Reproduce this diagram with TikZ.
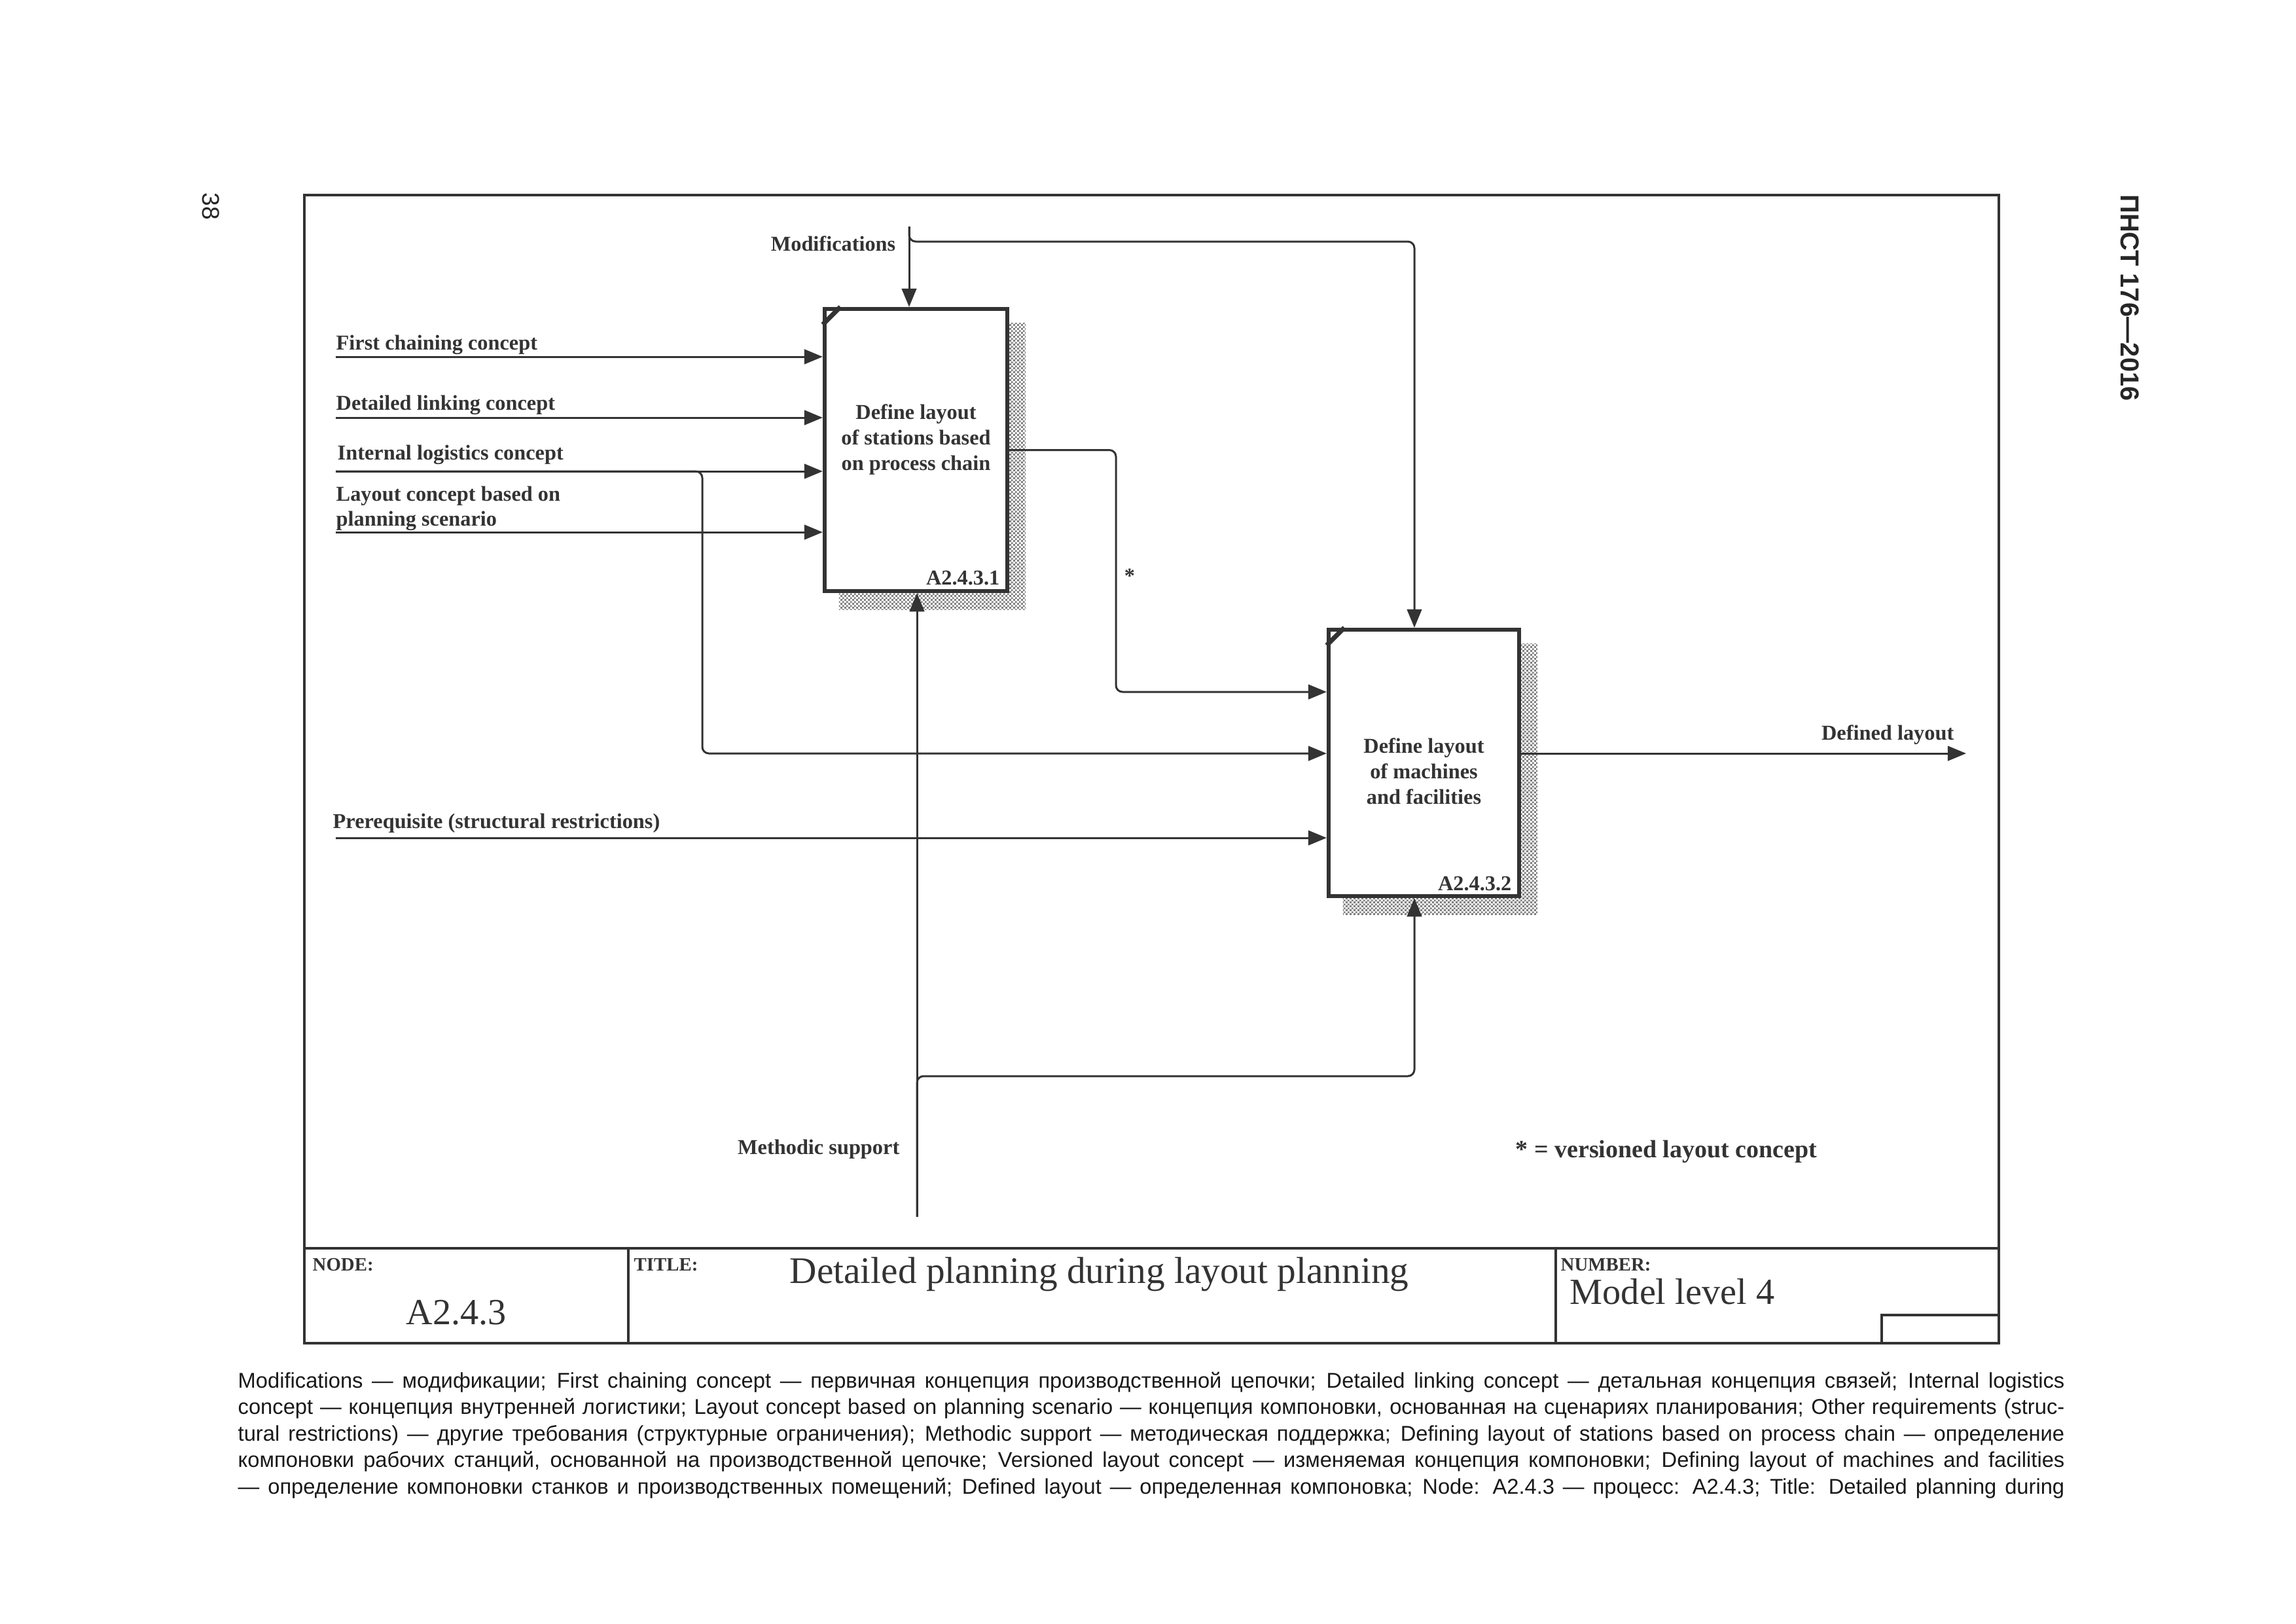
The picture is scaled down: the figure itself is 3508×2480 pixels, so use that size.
\documentclass[tikz,border=0pt]{standalone}
\usepackage{fontspec}
\setmainfont{Liberation Serif}
\newfontfamily\notefont{Liberation Sans}
\usetikzlibrary{arrows.meta,patterns.meta,backgrounds,positioning}

\definecolor{ink}{HTML}{333333}

\tikzdeclarepattern{
  name=idefdots,
  type=uncolored,
  bounding box={(0pt,0pt) and (1.8pt,1.8pt)},
  tile size={(1.8pt,1.8pt)},
  code={
    \pgfpathrectangle{\pgfpointorigin}{\pgfpoint{0.9pt}{0.9pt}}
    \pgfpathrectangle{\pgfpoint{0.9pt}{0.9pt}}{\pgfpoint{0.9pt}{0.9pt}}
    \pgfusepath{fill}
  }
}

\tikzset{
  flow/.style={draw=ink, line width=0.85pt, -{Triangle[length=8pt,width=6.4pt]}},
  actbox/.style={draw=ink, line width=1.7pt, fill=white, inner sep=0pt},
  corner/.style={draw=ink, line width=2pt, line cap=butt},
  lbl/.style={text=ink, inner sep=0pt, font=\fontsize{9.2}{10.8}\selectfont\bfseries},
  boxtext/.style={lbl, align=center, font=\fontsize{9.2}{11.1}\selectfont\bfseries},
  frame/.style={draw=ink, line width=0.9pt},
  cellhead/.style={text=ink, inner sep=0pt, anchor=base west, font=\fontsize{8.2}{9}\selectfont\bfseries},
  cellbig/.style={text=ink, inner sep=0pt, font=\fontsize{16}{18}\selectfont},
  noterow/.style={text=black!90, inner sep=0pt, anchor=base west, font=\notefont\fontsize{9.3}{11.4}\selectfont},
}

\begin{document}
\begin{tikzpicture}[x=0.01cm, y=-0.01cm]
\useasboundingbox (0,0) rectangle (3508,2480);

% frame and title block
\draw[frame] (465,298) rectangle (3054,2052);
\draw[frame, line width=1.2pt] (465,1907) -- (3054,1907);
\draw[frame] (960,1907) -- (960,2052);
\draw[frame] (2377,1907) -- (2377,2052);
\draw[frame] (2875,2009) rectangle (3054,2052);

% activity boxes
\node[actbox, minimum width=2.79cm, minimum height=4.31cm] (b1) at (1399.5,687.5) {};
\node[actbox, minimum width=2.91cm, minimum height=4.07cm] (b2) at (2175.5,1165.5) {};
\draw[corner] ([yshift=-0.27cm]b1.north west) -- ([xshift=0.27cm]b1.north west);
\draw[corner] ([yshift=-0.27cm]b2.north west) -- ([xshift=0.27cm]b2.north west);
\begin{scope}[on background layer]
  \fill[pattern=idefdots, pattern color=black!50] ([shift={(0.25cm,-0.25cm)}]b1.south west) rectangle ([shift={(0.25cm,-0.25cm)}]b1.north east);
  \fill[pattern=idefdots, pattern color=black!50] ([shift={(0.25cm,-0.25cm)}]b2.south west) rectangle ([shift={(0.25cm,-0.25cm)}]b2.north east);
\end{scope}

\node[boxtext, anchor=north] (t1) at ([yshift=-1.48cm]b1.north) {Define layout\\of stations based\\on process chain};
\node[boxtext, anchor=north] (t2) at ([yshift=-1.68cm]b2.north) {Define layout\\of machines\\and facilities};
\node[lbl, anchor=base east] (id1) at ([shift={(-0.14cm,0.13cm)}]b1.south east) {A2.4.3.1};
\node[lbl, anchor=base east] (id2) at ([shift={(-0.14cm,0.12cm)}]b2.south east) {A2.4.3.2};

% inputs
\coordinate (in1) at (513,545);
\coordinate (in2) at (513,638);
\coordinate (in3) at (513,720);
\coordinate (in4) at (513,813);
\coordinate (in5) at (513,1280);
\foreach \c in {in1,in2,in3,in4}
  \draw[flow] (\c) -- (\c -| b1.west);
\draw[flow] (in5) -- (in5 -| b2.west);

\node[lbl, anchor=base west] (l1) at (513,534) {First chaining concept};
\node[lbl, anchor=base west] (l2) at (513,626) {Detailed linking concept};
\node[lbl, anchor=base west] (l3) at (515,702) {Internal logistics concept};
\node[lbl, anchor=north west, align=left] (l4) at (513,742) {Layout concept based on\\planning scenario};
\node[lbl, anchor=base west] (l5) at (508,1265) {Prerequisite (structural restrictions)};

\coordinate (ilturn) at (1073,1151);
\draw[flow, rounded corners=0.1cm] (in3) -| (ilturn) -- (ilturn -| b2.west);

% controls
\coordinate (mod) at (1389,346);
\coordinate (modturn) at (2161,369);
\draw[flow] (mod) -- (mod |- b1.north);
\draw[flow, rounded corners=0.1cm] (mod) |- (modturn) -- (modturn |- b2.north);
\node[lbl, anchor=base east] (lmod) at (1369,383) {Modifications};

% box 1 to box 2
\coordinate (vturn) at (1705,1057);
\draw[flow, rounded corners=0.1cm] (b1.east) -| (vturn) -- (vturn -| b2.west);
\node[lbl] (lstar) at (1726,880) {*};

% mechanism
\coordinate (ms) at (1401,1859);
\coordinate (msturn) at (2161,1644);
\draw[flow] (ms) -- (ms |- b1.south);
\draw[flow, rounded corners=0.1cm] (ms) |- (msturn) -- (msturn |- b2.south);
\node[lbl, anchor=base east] (lms) at (1375,1763) {Methodic support};

% output
\coordinate (out) at (3004,1151);
\draw[flow] (out -| b2.east) -- (out);
\node[lbl, anchor=base east] (lout) at (2986,1130) {Defined layout};

\node[lbl, anchor=base west, font=\fontsize{10.8}{12}\selectfont\bfseries] (legend) at (2315,1768) {* = versioned layout concept};

% title block texts
\node[cellhead] (hnode) at (477,1941) {NODE:};
\node[cellhead] (htitle) at (968,1941) {TITLE:};
\node[cellhead] (hnum) at (2384,1941) {NUMBER:};
\node[cellbig, anchor=base] (vnode) at (697,2023) {A2.4.3};
\node[cellbig, anchor=base west, font=\fontsize{16.3}{18}\selectfont] (vtitle) at (1206,1960) {Detailed planning during layout planning};
\node[cellbig, anchor=base west] (vnum) at (2398,1992) {Model level 4};

% page margins
\node[text=black!85, rotate=-90, font=\notefont\fontsize{10.5}{12}\selectfont] (page) at (322,315) {38};
\node[text=black!85, rotate=-90, font=\notefont\bfseries\fontsize{11.3}{13}\selectfont] (std) at (3254,455) {ПНСТ 176—2016};

% legend below the frame
\node[noterow] (n1) at (363,2120) {\makebox[27.89cm][s]{Modifications — модификации; First chaining concept — первичная концепция производственной цепочки; Detailed linking concept — детальная концепция связей; Internal logistics}};
\node[noterow] (n2) at (363,2160.5) {\makebox[27.89cm][s]{concept — концепция внутренней логистики; Layout concept based on planning scenario — концепция компоновки, основанная на сценариях планирования; Other requirements (struc-}};
\node[noterow] (n3) at (363,2201) {\makebox[27.89cm][s]{tural restrictions) — другие требования (структурные ограничения); Methodic support — методическая поддержка; Defining layout of stations based on process chain — определение}};
\node[noterow] (n4) at (363,2241.5) {\makebox[27.89cm][s]{компоновки рабочих станций, основанной на производственной цепочке; Versioned layout concept — изменяемая концепция компоновки; Defining layout of machines and facilities}};
\node[noterow] (n5) at (363,2282) {\makebox[27.89cm][s]{— определение компоновки станков и производственных помещений; Defined layout — определенная компоновка; Node: A2.4.3 — процесс: A2.4.3; Title: Detailed planning during}};
\end{tikzpicture}
\end{document}
